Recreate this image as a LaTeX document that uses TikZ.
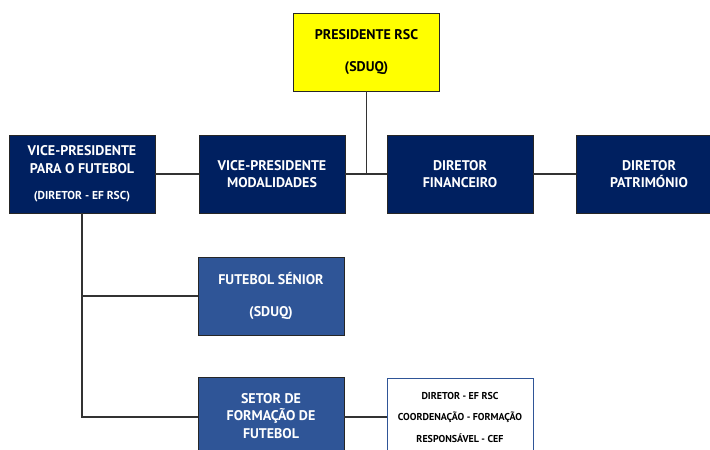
\documentclass[tikz,border=0pt]{standalone}
\usepackage{fontspec}
\setmainfont{PT Sans}
\definecolor{navy}{HTML}{002060}
\definecolor{midblue}{HTML}{2F5597}
\definecolor{ylw}{HTML}{FFFF00}
\definecolor{lnc}{HTML}{333333}
\tikzset{
  box/.style={draw=black!85, line width=0.8pt, minimum width=146pt, minimum height=78pt, inner sep=0pt, align=center, font=\bfseries\fontsize{14}{17.5}\selectfont},
  navybox/.style={box, fill=navy, text=white},
  bluebox/.style={box, fill=midblue, text=white},
  ybox/.style={box, fill=ylw, text=black},
  wbox/.style={draw=midblue, line width=0.6pt, fill=white, minimum width=146pt, minimum height=78pt, inner sep=0pt, align=center, font=\bfseries\fontsize{10}{11.5}\selectfont},
  conn/.style={draw=lnc, line width=1.2pt}
}
\begin{document}
\begin{tikzpicture}[x=1pt,y=-1pt]
\useasboundingbox (0,0) rectangle (710,450);
\begin{scope}
\clip (0,0) rectangle (710,450);
\node[ybox] (pres) at (366.5,52) {PRESIDENTE RSC\\[14pt](SDUQ)};
\node[navybox] (vpf) at (82,174) {VICE-PRESIDENTE\\PARA O FUTEBOL\\[9pt]{\fontsize{11.5}{13}\selectfont (DIRETOR - EF RSC)}};
\node[navybox] (vpm) at (272,174) {VICE-PRESIDENTE\\MODALIDADES};
\node[navybox] (dfin) at (460,174) {DIRETOR\\FINANCEIRO};
\node[navybox] (dpat) at (649,174) {DIRETOR\\PATRIMÓNIO};
\node[bluebox] (fs) at (271,296) {FUTEBOL SÉNIOR\\[14pt](SDUQ)};
\node[bluebox] (setor) at (271,416) {SETOR DE\\FORMAÇÃO DE\\FUTEBOL};
\node[wbox] (info) at (460,417) {DIRETOR - EF RSC\\[10pt]COORDENAÇÃO - FORMAÇÃO\\[10pt]RESPONSÁVEL - CEF};
\coordinate (j1) at (pres.south |- vpm.east);
\coordinate (k1) at (82,296);
\coordinate (k2) at (82,417);
\draw[conn] (pres.south) -- (j1);
\draw[conn] (vpf.east) -- (vpm.west);
\draw[conn] (vpm.east) -- (dfin.west);
\draw[conn] (dfin.east) -- (dpat.west);
\draw[conn] (vpf.south) -- (k2) -- (setor.west |- k2);
\draw[conn] (k1) -- (fs.west);
\draw[conn] (setor.east |- info.west) -- (info.west);
\end{scope}
\end{tikzpicture}
\end{document}
